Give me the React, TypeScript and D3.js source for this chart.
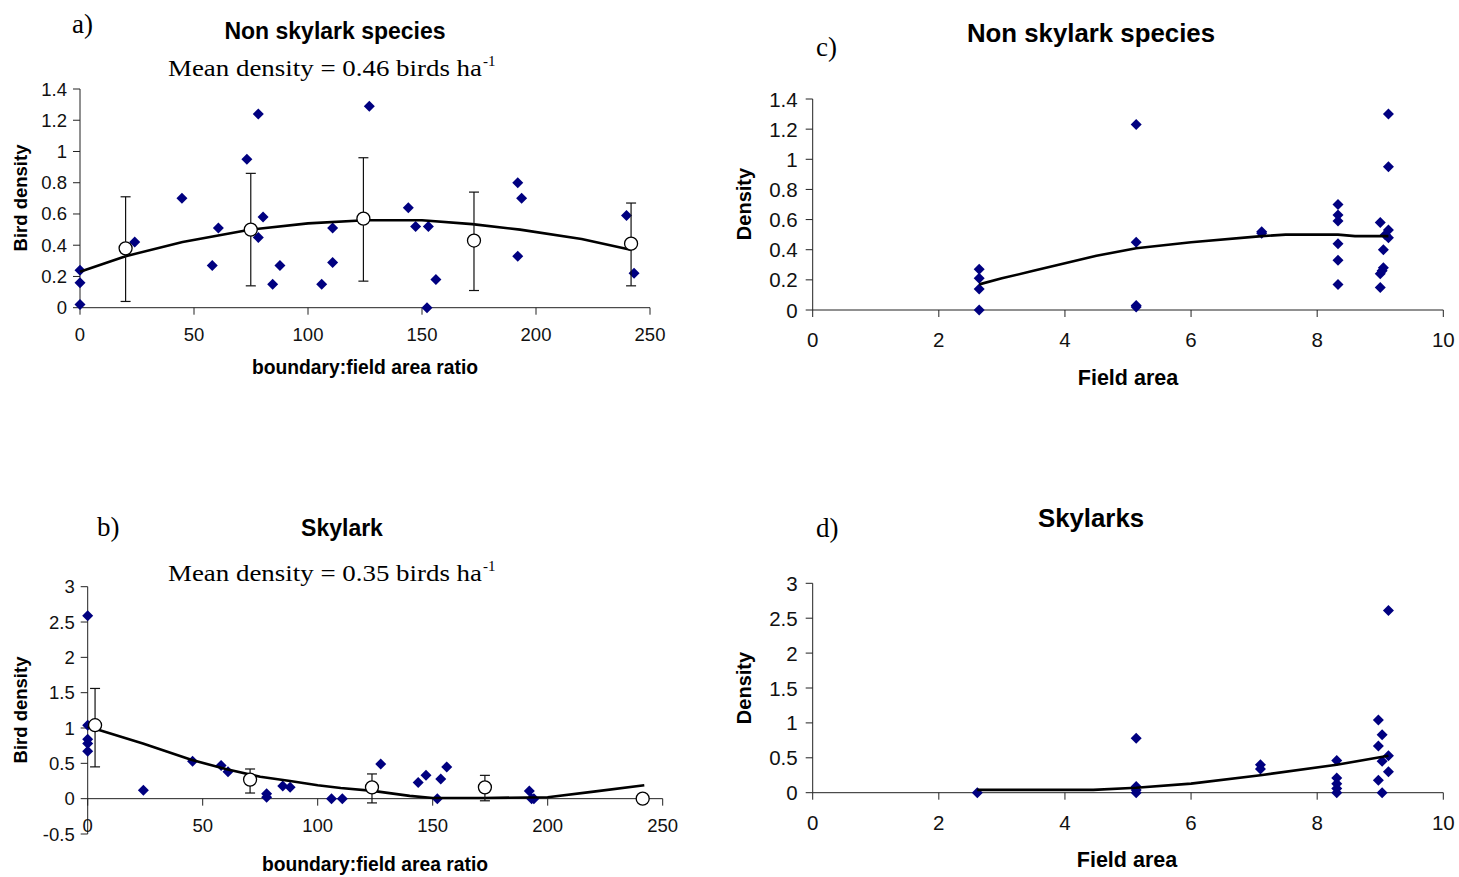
import React from "react";
import * as d3 from "d3";

// ---- data ----
// a) non skylark species vs boundary:field area ratio
const aPoints: [number, number][] = [
  [0, 0.24], [0, 0.16], [0, 0.02], [24, 0.42], [44.7, 0.7], [58, 0.27], [60.7, 0.51],
  [73.2, 0.95], [78.2, 1.24], [80.3, 0.58], [78.2, 0.45], [84.5, 0.15], [87.7, 0.27],
  [106, 0.15], [110.8, 0.51], [110.8, 0.29], [126.9, 1.29], [144, 0.64], [147.2, 0.52],
  [152.8, 0.52], [156.1, 0.18], [152.2, 0.0], [192, 0.8], [193.7, 0.7], [192, 0.33],
  [239.7, 0.59], [243, 0.22],
];
// [x, mean, lower, upper]
const aMeans: [number, number, number, number][] = [
  [20, 0.38, 0.04, 0.71], [74.9, 0.5, 0.14, 0.86], [124.3, 0.57, 0.17, 0.96],
  [172.8, 0.43, 0.11, 0.74], [241.7, 0.41, 0.14, 0.67],
];
const aCurve: [number, number][] = [
  [0, 0.23], [20, 0.33], [45, 0.42], [60, 0.46], [75, 0.5], [100, 0.54], [125, 0.56],
  [150, 0.56], [172, 0.535], [193, 0.5], [220, 0.44], [242, 0.37],
];

// b) skylark vs boundary:field area ratio
const bPoints: [number, number][] = [
  [0, 2.59], [0, 1.04], [0, 0.84], [0, 0.78], [0, 0.67], [24.2, 0.12], [45.6, 0.53],
  [58, 0.47], [61, 0.38], [77.8, 0.07], [77.8, 0.02], [84.8, 0.18], [88, 0.16], [106, 0],
  [110.7, 0], [127.4, 0.49], [143.7, 0.23], [147.1, 0.33], [153.5, 0.28], [156.1, 0.45],
  [152, 0], [192, 0.11], [193, 0], [194, 0],
];
const bMeans: [number, number, number, number][] = [
  [3.2, 1.04, 0.45, 1.56], [70.6, 0.27, 0.08, 0.42], [123.6, 0.16, -0.06, 0.35],
  [172.7, 0.16, -0.03, 0.33], [241.3, 0, 0, 0],
];
const bCurve: [number, number][] = [
  [0, 1.02], [24, 0.78], [45, 0.55], [60, 0.42], [75, 0.31], [88, 0.25], [100, 0.19],
  [110, 0.15], [124, 0.11], [140, 0.04], [150, 0.01], [172, 0.01], [200, 0.02],
  [220, 0.1], [242, 0.19],
];

// c) non skylark species vs field area
const cPoints: [number, number][] = [
  [2.64, 0.27], [2.64, 0.21], [2.64, 0.14], [2.64, 0], [5.13, 1.23], [5.13, 0.45],
  [5.13, 0.03], [5.13, 0.02], [7.12, 0.52], [7.12, 0.51], [8.33, 0.7], [8.33, 0.63],
  [8.33, 0.59], [8.33, 0.44], [8.33, 0.33], [8.33, 0.17], [9.13, 1.3], [9.13, 0.95],
  [9.0, 0.58], [9.13, 0.53], [9.08, 0.5], [9.13, 0.48], [9.05, 0.4], [9.05, 0.28],
  [9.03, 0.26], [9.0, 0.24], [9.0, 0.15],
];
const cCurve: [number, number][] = [
  [2.64, 0.17], [3, 0.21], [3.5, 0.26], [4, 0.31], [4.5, 0.36], [5.13, 0.41], [6, 0.45],
  [7.12, 0.49], [7.5, 0.5], [8.33, 0.5], [8.6, 0.49], [9.13, 0.49],
];

// d) skylarks vs field area
const dPoints: [number, number][] = [
  [2.61, 0], [5.13, 0.78], [5.13, 0.09], [5.13, 0.04], [5.13, 0], [7.1, 0.4], [7.1, 0.34],
  [8.31, 0.46], [8.31, 0.21], [8.31, 0.13], [8.31, 0.06], [8.31, 0], [9.13, 2.61],
  [8.97, 1.04], [9.03, 0.83], [8.97, 0.67], [9.13, 0.53], [9.03, 0.45], [9.13, 0.3],
  [8.97, 0.18], [9.03, 0],
];
const dCurve: [number, number][] = [
  [2.61, 0.04], [4.45, 0.04], [5.13, 0.07], [6, 0.13], [7.1, 0.25], [8.31, 0.4], [9.13, 0.53],
];

const ratioTicks = [0, 50, 100, 150, 200, 250];
const areaTicks = [0, 2, 4, 6, 8, 10];
const smallYTicks = [0, 0.2, 0.4, 0.6, 0.8, 1, 1.2, 1.4];
const skylarkYTicks = [-0.5, 0, 0.5, 1, 1.5, 2, 2.5, 3];
const skylarkAreaYTicks = [0, 0.5, 1, 1.5, 2, 2.5, 3];

const SANS = "'Liberation Sans', Arial, sans-serif";
const SERIF = "'Liberation Serif', 'Times New Roman', serif";
const NAVY = "#000080";

const fmt = (v: number) => String(+v.toFixed(1));
const diamond = (r: number) => `M0,${-r}L${r},0L0,${r}L${-r},0Z`;

type PanelProps = {
  xRange: [number, number];
  yRange: [number, number];
  xDomain: [number, number];
  yDomain: [number, number];
  xTicks: number[];
  yTicks: number[];
  points: [number, number][];
  curve: [number, number][];
  means?: [number, number, number, number][];
  tickFont: number;
  xLabelOffset: number;
  yLabelGap: number;
};

function Panel(p: PanelProps) {
  const x = d3.scaleLinear().domain(p.xDomain).range(p.xRange);
  const y = d3.scaleLinear().domain(p.yDomain).range(p.yRange);
  const line = d3.line<[number, number]>().x(d => x(d[0])).y(d => y(d[1]));
  const x0 = x(p.xDomain[0]);
  const yZero = y(0);
  return (
    <g>
      {/* y axis */}
      <line x1={x0} x2={x0} y1={y(p.yDomain[0])} y2={y(p.yDomain[1])} stroke="#222" strokeWidth={1} />
      {p.yTicks.map(t => (
        <g key={"y" + t}>
          <line x1={x0 - 7} x2={x0} y1={y(t)} y2={y(t)} stroke="#222" />
          <text x={x0 - p.yLabelGap} y={y(t)} textAnchor="end" dominantBaseline="central"
            fontFamily={SANS} fontSize={p.tickFont} fill="#111">{fmt(t)}</text>
        </g>
      ))}
      {/* x axis at zero */}
      <line x1={x(p.xDomain[0])} x2={x(p.xDomain[1])} y1={yZero} y2={yZero} stroke="#222" />
      {p.xTicks.map(t => (
        <g key={"x" + t}>
          <line x1={x(t)} x2={x(t)} y1={yZero} y2={yZero + 7} stroke="#222" />
          <text x={x(t)} y={yZero + p.xLabelOffset} textAnchor="middle"
            fontFamily={SANS} fontSize={p.tickFont} fill="#111">{fmt(t)}</text>
        </g>
      ))}
      {/* points */}
      {p.points.map((d, i) => (
        <path key={"p" + i} d={diamond(5.5)} transform={`translate(${x(d[0])},${y(d[1])})`} fill={NAVY} />
      ))}
      {/* fitted curve */}
      <path d={line(p.curve) || ""} fill="none" stroke="#000" strokeWidth={2.6} strokeLinejoin="round" />
      {/* class means with error bars */}
      {(p.means || []).map((m, i) => (
        <g key={"m" + i}>
          {m[3] > m[2] && (
            <g stroke="#111" strokeWidth={1.2}>
              <line x1={x(m[0])} x2={x(m[0])} y1={y(m[2])} y2={y(m[3])} />
              <line x1={x(m[0]) - 5} x2={x(m[0]) + 5} y1={y(m[2])} y2={y(m[2])} />
              <line x1={x(m[0]) - 5} x2={x(m[0]) + 5} y1={y(m[3])} y2={y(m[3])} />
            </g>
          )}
          <circle cx={x(m[0])} cy={y(m[1])} r={6.5} fill="#fff" stroke="#000" strokeWidth={1.3} />
        </g>
      ))}
    </g>
  );
}

function MeanText({ x, y, value }: { x: number; y: number; value: string }) {
  return (
    <g fontFamily={SERIF} fill="#000">
      <text x={x} y={y} fontSize={24} textLength={314} lengthAdjust="spacingAndGlyphs">
        {`Mean density = ${value} birds ha`}
      </text>
      <text x={x + 315} y={y - 10} fontSize={15}>-1</text>
    </g>
  );
}

function YLabel({ x, y, text, size }: { x: number; y: number; text: string; size: number }) {
  return (
    <text transform={`translate(${x},${y}) rotate(-90)`} textAnchor="middle" dominantBaseline="central"
      fontFamily={SANS} fontWeight="bold" fontSize={size}>{text}</text>
  );
}

export default function App() {
  return (
    <svg width={1459} height={877} style={{ position: "absolute", left: 0, top: 0, background: "#fff" }}>
      {/* a */}
      <text x={72} y={33} fontFamily={SERIF} fontSize={27}>a)</text>
      <text x={335} y={39} textAnchor="middle" fontFamily={SANS} fontWeight="bold" fontSize={23}>Non skylark species</text>
      <MeanText x={168} y={76} value="0.46" />
      <Panel xRange={[80, 650]} yRange={[307.7, 89]} xDomain={[0, 250]} yDomain={[0, 1.4]}
        xTicks={ratioTicks} yTicks={smallYTicks} points={aPoints} curve={aCurve} means={aMeans}
        tickFont={18.5} xLabelOffset={33} yLabelGap={13} />
      <text x={365} y={374} textAnchor="middle" fontFamily={SANS} fontWeight="bold" fontSize={19.3}>boundary:field area ratio</text>
      <YLabel x={20} y={198} text="Bird density" size={18.5} />

      {/* b */}
      <text x={97} y={536} fontFamily={SERIF} fontSize={27}>b)</text>
      <text x={342} y={536} textAnchor="middle" fontFamily={SANS} fontWeight="bold" fontSize={23}>Skylark</text>
      <MeanText x={168} y={581} value="0.35" />
      <Panel xRange={[87.7, 662.7]} yRange={[834, 586.7]} xDomain={[0, 250]} yDomain={[-0.5, 3]}
        xTicks={ratioTicks} yTicks={skylarkYTicks} points={bPoints} curve={bCurve} means={bMeans}
        tickFont={18.5} xLabelOffset={33} yLabelGap={13} />
      <text x={375} y={871} textAnchor="middle" fontFamily={SANS} fontWeight="bold" fontSize={19.3}>boundary:field area ratio</text>
      <YLabel x={20} y={710} text="Bird density" size={18.5} />

      {/* c */}
      <text x={816} y={56} fontFamily={SERIF} fontSize={27}>c)</text>
      <text x={1091} y={42} textAnchor="middle" fontFamily={SANS} fontWeight="bold" fontSize={25.8}>Non skylark species</text>
      <Panel xRange={[812.7, 1443.3]} yRange={[310, 99]} xDomain={[0, 10]} yDomain={[0, 1.4]}
        xTicks={areaTicks} yTicks={smallYTicks} points={cPoints} curve={cCurve}
        tickFont={20.5} xLabelOffset={37} yLabelGap={15} />
      <text x={1128} y={385} textAnchor="middle" fontFamily={SANS} fontWeight="bold" fontSize={21.5}>Field area</text>
      <YLabel x={744} y={204} text="Density" size={20} />

      {/* d */}
      <text x={816} y={537} fontFamily={SERIF} fontSize={27}>d)</text>
      <text x={1091} y={527} textAnchor="middle" fontFamily={SANS} fontWeight="bold" fontSize={25.8}>Skylarks</text>
      <Panel xRange={[812.7, 1443.3]} yRange={[792.7, 583.3]} xDomain={[0, 10]} yDomain={[0, 3]}
        xTicks={areaTicks} yTicks={skylarkAreaYTicks} points={dPoints} curve={dCurve}
        tickFont={20.5} xLabelOffset={37} yLabelGap={15} />
      <text x={1127} y={867} textAnchor="middle" fontFamily={SANS} fontWeight="bold" fontSize={21.5}>Field area</text>
      <YLabel x={744} y={688} text="Density" size={20} />
    </svg>
  );
}
